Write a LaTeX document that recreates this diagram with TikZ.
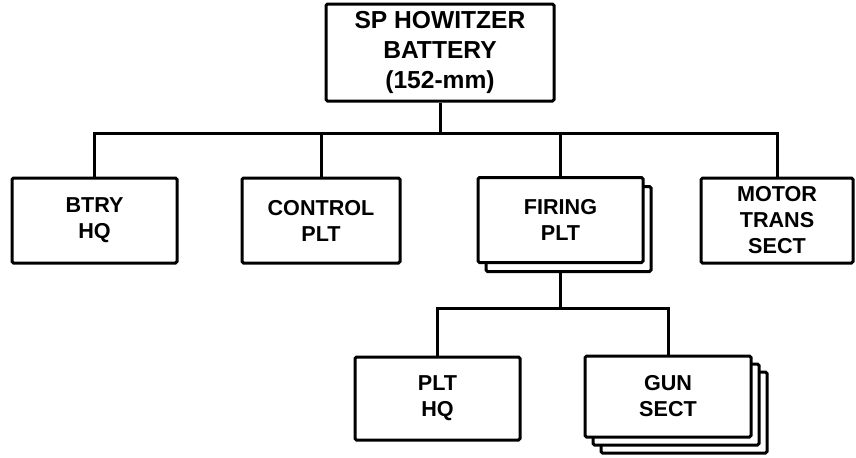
\documentclass[tikz,border=0pt]{standalone}
\usepackage{fontspec}
\setmainfont{Liberation Sans}
\usetikzlibrary{shadows}

\begin{document}
\begin{tikzpicture}[x=0.5pt,y=-0.5pt,line width=1.5pt,
  unit/.style={rectangle,draw,fill=white,align=center,inner sep=0pt,rounded corners=0.8pt,
    font=\fontsize{10.8}{13}\selectfont\bfseries,minimum width=82.5pt,minimum height=42.5pt},
  stack/.style={unit,copy shadow={shadow xshift=4pt,shadow yshift=-4.5pt,fill=white,draw=black}},
  stacks/.style={unit,double copy shadow={shadow xshift=4pt,shadow yshift=-4pt,fill=white,draw=black}}]
\useasboundingbox (0,0) rectangle (856,457);
\coordinate (bus1) at (0,133);
\coordinate (bus2) at (0,308);
\node[unit] (B) at (440,52.5) [minimum width=114pt,minimum height=48.5pt,
  font=\fontsize{12.3}{15}\selectfont\bfseries] {SP HOWITZER\\BATTERY\\(152-mm)};
\node[unit] (HQ) at (94.5,220.5) {BTRY\\HQ};
\node[unit] (CP) at (321,220.5) [minimum width=79pt] {CONTROL\\PLT};
\node[stack] (FP) at (560.5,220) {FIRING\\PLT};
\node[unit] (MT) at (777,220.5) [minimum width=76pt] {MOTOR\\TRANS\\SECT};
\node[unit] (PH) at (437.5,398.5) [minimum height=41.5pt] {PLT\\HQ};
\node[stacks] (GS) at (668,396.5) [minimum width=83pt,minimum height=40.5pt] {GUN\\SECT};
\draw (B.south) -- (B.south |- bus1);
\draw (HQ.north) |- (MT.north |- bus1) -- (MT.north);
\draw (CP.north) -- (CP.north |- bus1);
\draw (FP.north) -- (FP.north |- bus1);
\draw ([yshift=-4.5pt]FP.south) -- (FP.south |- bus2);
\draw (PH.north) |- (GS.north |- bus2) -- (GS.north);
\end{tikzpicture}
\end{document}
